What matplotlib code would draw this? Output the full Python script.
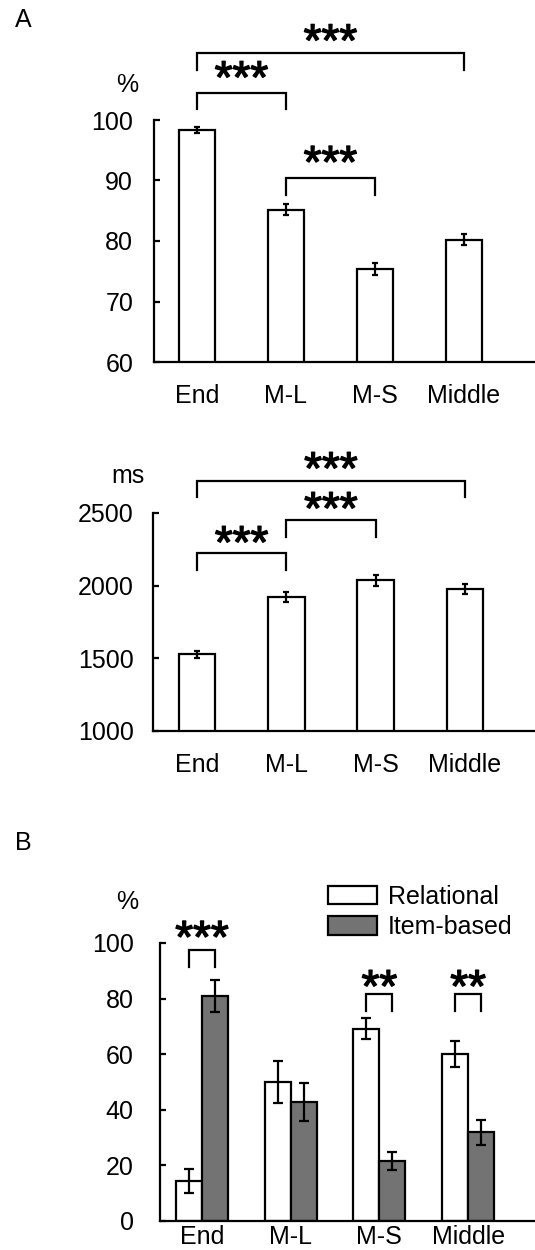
import matplotlib
matplotlib.use('Agg')
import matplotlib.pyplot as plt
import matplotlib.patheffects as pe
from matplotlib.patches import Patch
import numpy as np

plt.rcParams['font.family'] = ['Liberation Sans', 'DejaVu Sans']

# ---- data ----
conditions = ["End", "M-L", "M-S", "Middle"]

accuracy = [98.3, 85.2, 75.4, 80.2]
accuracy_err = [0.5, 0.9, 1.0, 0.9]

rt = [1528, 1924, 2036, 1977]
rt_err = [25, 35, 35, 33]

relational = [14.5, 50.0, 69.2, 60.0]
relational_err = [4.3, 7.4, 3.8, 4.7]
item_based = [81.0, 42.8, 21.6, 32.0]
item_based_err = [5.8, 7.0, 3.2, 4.5]

W, H = 535, 1250
fig = plt.figure(figsize=(W / 100, H / 100), dpi=100)

LW = 1.6
FS = 18
STAR_FS = 33


def px_axes(left, top, right, bottom):
    return fig.add_axes([left / W, 1 - bottom / H, (right - left) / W, (bottom - top) / H])


def style(ax, ypad, xpad):
    for s in ("top", "right"):
        ax.spines[s].set_visible(False)
    for s in ("left", "bottom"):
        ax.spines[s].set_linewidth(LW)
    ax.tick_params(axis="y", direction="in", length=4, width=LW, pad=ypad, labelsize=FS)
    ax.tick_params(axis="x", length=0, pad=xpad, labelsize=FS)


def bracket(ax, x1, x2, y_top, y_leg, stars, y_star):
    ax.plot([x1, x1, x2, x2], [y_leg, y_top, y_top, y_leg], color="black",
            lw=LW, clip_on=False, solid_joinstyle="miter")
    ax.annotate(stars, xy=((x1 + x2) / 2, y_star), xytext=(0, -0.45 * STAR_FS),
                textcoords="offset points", ha="center", va="baseline",
                fontsize=STAR_FS, annotation_clip=False,
                path_effects=[pe.withStroke(linewidth=1.0, foreground="black")])


x = np.arange(len(conditions))

# ---- A: accuracy ----
ax1 = px_axes(154, 120, 535, 362)
ax1.bar(x, accuracy, width=0.40, color="white", edgecolor="black", lw=LW, zorder=2)
ax1.errorbar(x, accuracy, yerr=accuracy_err, fmt="none", ecolor="black",
             elinewidth=LW, capsize=2.5, capthick=LW, zorder=3)
ax1.set_ylim(60, 100)
ax1.set_xlim(-0.483, 3.798)
ax1.set_yticks([60, 70, 80, 90, 100])
ax1.set_xticks(x)
ax1.set_xticklabels(conditions)
style(ax1, 15, 16)
bracket(ax1, 0, 3, 111.1, 108.3, "***", 114.0)
bracket(ax1, 0, 1, 104.5, 101.8, "***", 107.9)
bracket(ax1, 1, 2, 90.4, 87.6, "***", 93.9)

# ---- A: reaction time ----
ax2 = px_axes(153, 513, 535, 731)
ax2.bar(x, rt, width=0.41, color="white", edgecolor="black", lw=LW, zorder=2)
ax2.errorbar(x, rt, yerr=rt_err, fmt="none", ecolor="black",
             elinewidth=LW, capsize=2.5, capthick=LW, zorder=3)
ax2.set_ylim(1000, 2500)
ax2.set_xlim(-0.493, 3.785)
ax2.set_yticks([1000, 1500, 2000, 2500])
ax2.set_xticks(x)
ax2.set_xticklabels(conditions)
style(ax2, 14, 16)
bracket(ax2, 0, 3, 2719, 2609, "***", 2843)
bracket(ax2, 0, 1, 2224, 2107, "***", 2334)
bracket(ax2, 1, 2, 2451, 2334, "***", 2568)

# ---- B: strategy ----
ax3 = px_axes(160, 943, 535, 1221)
bw = 0.293
ax3.bar(x - bw / 2, relational, width=bw, color="white", edgecolor="black",
        lw=LW, zorder=2, label="Relational")
ax3.bar(x + bw / 2, item_based, width=bw, color="#737373", edgecolor="black",
        lw=LW, zorder=2, label="Item-based")
ax3.errorbar(x - bw / 2, relational, yerr=relational_err, fmt="none", ecolor="black",
             elinewidth=LW, capsize=3.5, capthick=LW, zorder=3)
ax3.errorbar(x + bw / 2, item_based, yerr=item_based_err, fmt="none", ecolor="black",
             elinewidth=LW, capsize=3.5, capthick=LW, zorder=3)
ax3.set_ylim(0, 100)
ax3.set_xlim(-0.474, 3.754)
ax3.set_yticks([0, 20, 40, 60, 80, 100])
ax3.set_xticks(x)
ax3.set_xticklabels(conditions)
style(ax3, 19, 3)
bracket(ax3, -bw / 2, bw / 2, 97.5, 91.4, "***", 104.0)
bracket(ax3, 2 - bw / 2, 2 + bw / 2, 81.7, 75.5, "**", 86.3)
bracket(ax3, 3 - bw / 2, 3 + bw / 2, 81.7, 75.5, "**", 86.3)

handles = [Patch(facecolor="white", edgecolor="black", lw=LW),
           Patch(facecolor="#737373", edgecolor="black", lw=LW)]
fig.legend(handles, ["Relational", "Item-based"], loc="upper left",
           bbox_to_anchor=(328 / W, 1 - 885 / H), frameon=False, fontsize=FS,
           handlelength=1.95, handleheight=0.75, handletextpad=0.45,
           labelspacing=0.25, borderpad=0, borderaxespad=0)

# ---- panel letters and units ----
fig.text(23 / W, 1 - 20 / H, "A", ha="center", va="center", fontsize=FS)
fig.text(23 / W, 1 - 843 / H, "B", ha="center", va="center", fontsize=FS)
fig.text(127 / W, 1 - 85 / H, "%", ha="center", va="center", fontsize=FS)
fig.text(128 / W, 1 - 476 / H, "ms", ha="center", va="center", fontsize=FS)
fig.text(127 / W, 1 - 902 / H, "%", ha="center", va="center", fontsize=FS)

fig.savefig("out.png", dpi=100)
